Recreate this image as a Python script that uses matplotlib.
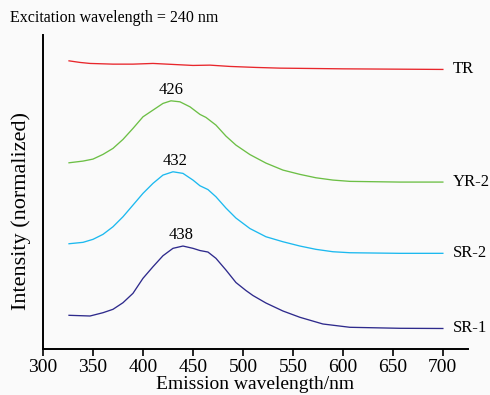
import matplotlib.pyplot as plt

plt.rcParams['font.family'] = ['Liberation Serif', 'DejaVu Serif']

# Emission spectra, stacked with vertical offsets (arbitrary intensity units)
tr_wl = [326, 337, 347, 370, 390, 410, 430, 450, 467, 487, 513, 537, 600, 700]
tr_int = [288.3, 286.7, 285.7, 285, 285, 285.7, 284.7, 283.7, 284, 282.7, 281.7, 281, 280.3, 279.7]

yr2_wl = [326, 340, 350, 360, 370, 380, 390, 400, 410, 420, 428, 437, 447, 457, 463,
          473, 483, 493, 507, 523, 540, 557, 573, 590, 607, 657, 700]
yr2_int = [186.3, 188, 190, 194.7, 200.7, 209.7, 220.7, 232.3, 239, 245.7, 248.3, 247.3,
           242.3, 234.7, 231.7, 224, 213, 204, 194.5, 186, 179, 174.7, 171.3, 169,
           167.7, 167, 167]

sr2_wl = [326, 340, 350, 360, 370, 380, 390, 400, 410, 420, 430, 440, 450, 457, 465,
          473, 483, 493, 507, 523, 540, 557, 573, 590, 607, 657, 700]
sr2_int = [105.3, 106.7, 109.7, 114.7, 122.3, 132.3, 144, 155.7, 165.7, 174, 177.3, 175.7,
           169, 163.3, 159.5, 152.3, 141, 131, 120.5, 112.3, 107.3, 103, 99.7, 97.3,
           96.3, 95.7, 95.7]

sr1_wl = [326, 347, 360, 370, 380, 390, 400, 410, 420, 430, 440, 450, 457, 465, 473,
          483, 493, 503, 510, 523, 540, 557, 580, 607, 657, 700]
sr1_int = [33.7, 33, 36.3, 39.7, 46.3, 55.7, 70.7, 82.3, 93.3, 100.7, 103, 100.7, 98.5,
           97, 90.7, 79, 66.5, 58.5, 53.5, 46, 38, 31.7, 25, 21.7, 20.7, 20.5]

series = [
    ('TR', tr_wl, tr_int, '#e8262b'),
    ('YR-2', yr2_wl, yr2_int, '#6cbf45'),
    ('SR-2', sr2_wl, sr2_int, '#1cb9ef'),
    ('SR-1', sr1_wl, sr1_int, '#2e2a8c'),
]
peaks = [('426', 428, 248.3), ('432', 432, 177.3), ('438', 438, 103)]

fig = plt.figure(figsize=(4.9, 3.95), dpi=100, facecolor='#fafafa')
ax = fig.add_axes([0.0878, 0.1165, 0.867, 0.7945])
ax.set_facecolor('#fafafa')

for name, wl, inten, col in series:
    ax.plot(wl, inten, color=col, linewidth=0.95)
    ax.text(wl[-1] + 10, inten[-1], name, fontsize=12, va='center', ha='left')

for lab, px, py in peaks:
    ax.annotate(lab, (px, py), xytext=(0, 2), textcoords='offset points',
                ha='center', va='bottom', fontsize=12)

ax.set_xlim(300, 725)
ax.set_ylim(0, 314)
ax.set_xticks(range(300, 701, 50))
ax.set_yticks([])
ax.tick_params(axis='x', direction='out', length=5, width=1.2, labelsize=14, pad=2)
for s in ['top', 'right']:
    ax.spines[s].set_visible(False)
ax.spines['left'].set_linewidth(1.4)
ax.spines['bottom'].set_linewidth(1.4)

ax.set_xlabel('Emission wavelength/nm', fontsize=14, labelpad=0.5)
ax.set_ylabel('Intensity (normalized)', fontsize=16)
ax.yaxis.set_label_coords(-0.028, 0.44)
fig.text(0.02, 0.955, 'Excitation wavelength = 240 nm', fontsize=11.5, va='center')

fig.savefig('out.png', dpi=100, facecolor=fig.get_facecolor())
